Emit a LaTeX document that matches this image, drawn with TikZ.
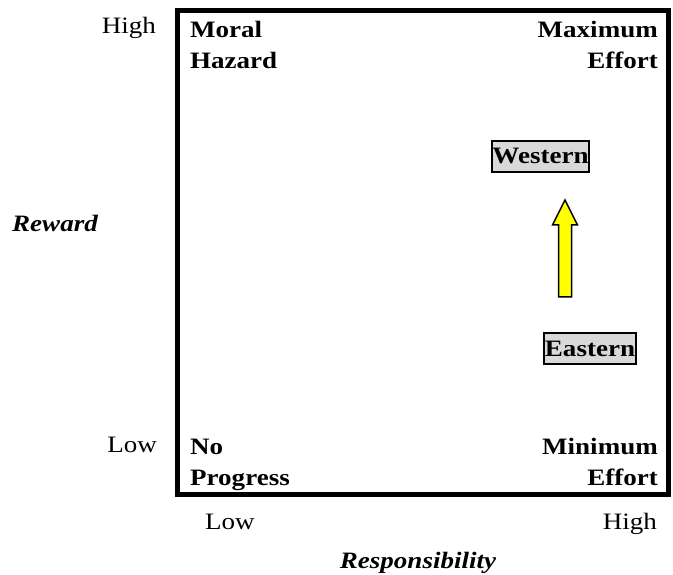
\documentclass[tikz,border=0pt]{standalone}
\usepackage{fontspec}
\setmainfont{Liberation Serif}[FakeStretch=1.15]
\definecolor{boxgray}{HTML}{D9D9D9}
\definecolor{arrowyellow}{HTML}{FFFF00}
\begin{document}
\begin{tikzpicture}[x=1pt,y=-1pt,
  every node/.style={inner sep=0pt, font=\fontsize{23.5}{31.5}\selectfont},
  corner/.style={font=\fontsize{23.5}{31.5}\selectfont\bfseries},
  axislbl/.style={font=\fontsize{23.5}{31.5}\selectfont},
  axistitle/.style={font=\fontsize{23.5}{31.5}\selectfont\bfseries\itshape},
  region/.style={draw, line width=2pt, fill=boxgray, minimum width=#1, minimum height=31pt,
    font=\fontsize{23.5}{31.5}\selectfont\bfseries},
  shiftarrow/.style={draw, line width=1.5pt, fill=arrowyellow, line join=miter}]
\useasboundingbox (0,0) rectangle (673,575);
% frame
\draw[line width=5pt] (177,11) rectangle (668,494);
% corner labels (anchored at the baseline of their last line)
\node[corner, anchor=base west, align=left] (moral) at (190,69) {Moral\\Hazard};
\node[corner, anchor=base east, align=right] (maxeff) at (658,69) {Maximum\\Effort};
\node[corner, anchor=base west, align=left] (noprog) at (190,485.5) {No\\Progress};
\node[corner, anchor=base east, align=right] (mineff) at (658,485.5) {Minimum\\Effort};
% axis labels
\node[axislbl, anchor=base east] (yhigh) at (156,34) {High};
\node[axislbl, anchor=base east] (ylow) at (157,452) {Low};
\node[axistitle, anchor=base west] (reward) at (12,232) {Reward};
\node[axislbl, anchor=base west] (xlow) at (205,529) {Low};
\node[axislbl, anchor=base east] (xhigh) at (657,529) {High};
\node[axistitle, anchor=base] (resp) at (418,568) {Responsibility};
% regions
\node[region=97pt] (western) at (540.5,156.3) {Western};
\node[region=92pt] (eastern) at (590,348.8) {Eastern};
% block arrow
\draw[shiftarrow] (565,200) -- (577.5,225) -- (571.5,225) -- (571.5,297)
  -- (558.5,297) -- (558.5,225) -- (552.5,225) -- cycle;
\end{tikzpicture}
\end{document}
